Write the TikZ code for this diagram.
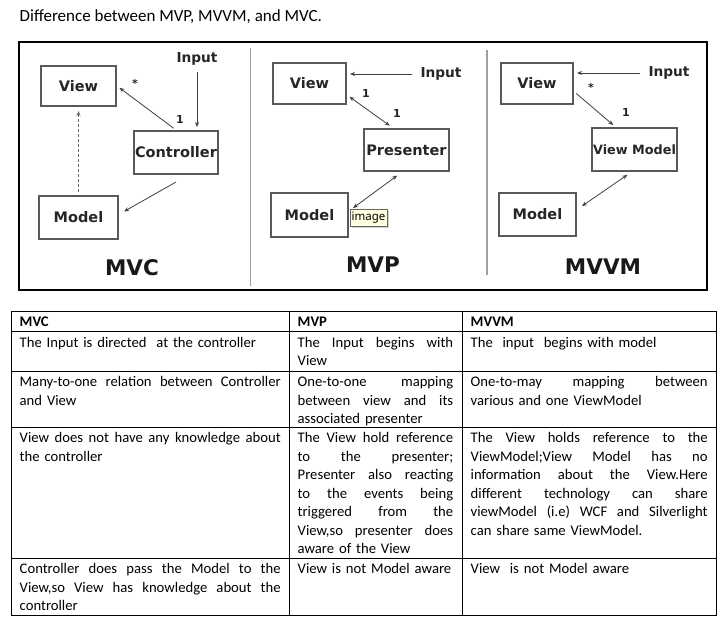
\documentclass[tikz,border=0pt]{standalone}
\usepackage{fontspec}
\setmainfont{Carlito}
\newfontfamily\diagfont{DejaVu Sans}
\newfontfamily\tipfont{Noto Sans}
\usepackage{xcolor}
\usetikzlibrary{arrows.meta, positioning, shadows}

\definecolor{tipfill}{HTML}{FFFFE1}
% one justified line of a table cell, per column width
\newcommand{\jl}[2]{\makebox[#1][s]{\spaceskip=0.226em plus 1fil\relax#2}}
\newcommand{\ja}{\jl{261pt}}
\newcommand{\jb}{\jl{155.5pt}}
\newcommand{\jc}{\jl{237pt}}

\begin{document}
\begin{tikzpicture}[x=1pt, y=-1pt,
  box/.style={draw=black!65, line width=1.6pt, inner sep=0pt, font=\diagfont\bfseries\fontsize{14.5}{16}\selectfont, text=black!85},
  lbl/.style={inner sep=1pt, font=\diagfont\bfseries\fontsize{13.7}{15}\selectfont, text=black!85},
  num/.style={inner sep=0pt, font=\diagfont\bfseries\fontsize{11}{12}\selectfont, text=black!85},
  big/.style={inner sep=0pt, font=\diagfont\bfseries\fontsize{21.5}{24}\selectfont, text=black!90},
  arr/.style={draw=black!75, line width=0.8pt, -{Stealth[length=5pt, width=4pt]}},
  dbl/.style={arr, {Stealth[length=5pt, width=4pt]}-{Stealth[length=5pt, width=4pt]}},
  cell/.style={anchor=base west, inner sep=0pt, align=left, font=\fontsize{14.67}{18.5}\selectfont},
  head/.style={cell, font=\bfseries\fontsize{14.67}{18.5}\selectfont},
  cola/.style={cell, text width=261pt},
  colb/.style={cell, text width=155.5pt},
  colc/.style={cell, text width=237pt}]
\fill[white] (0,0) rectangle (726,626);
\useasboundingbox (0,0) rectangle (726,626);

\node[anchor=base west, inner sep=0pt, font=\fontsize{17}{20}\selectfont] (title) at (19.5,22) {Difference between MVP, MVVM, and MVC.};

% picture frame and separators
\draw[line width=2pt] (19,42) rectangle (707,290);
\draw[gray!75, line width=1.8pt] (250.5,48) -- (250.5,286);
\draw[gray!75, line width=1.8pt] (487,50) -- (487,275);

% MVC
\node[box, minimum width=75.4pt, minimum height=40.4pt] (mvcview) at (78.5,86) {View};
\node[box, minimum width=84.4pt, minimum height=43.4pt] (mvcctrl) at (176,152.5) {Controller};
\node[box, minimum width=79.4pt, minimum height=43.4pt] (mvcmodel) at (78.5,217.5) {Model};
\node[lbl] (mvcin) at (197,59) {Input};
\draw[arr, shorten <=5pt, shorten >=3pt] (mvcin.south) -- (mvcin.south |- mvcctrl.north);
\draw[arr, shorten <=3pt, shorten >=3pt] (mvcctrl.north) -- (mvcview.east);
\draw[arr] ([yshift=-7pt]mvcctrl.south) -- ([xshift=5pt, yshift=6pt]mvcmodel.east);
\draw[arr, densely dashed, draw=black!60, shorten <=3pt, shorten >=4pt] (mvcmodel.north) -- (mvcview.south);
\node[num] (mvcone) at (180,119) {1};
\node[num] (mvcstar) at (135,83) {*};
\node[big] (mvclbl) at (132,268) {MVC};

% MVP
\node[box, minimum width=73.4pt, minimum height=41.4pt] (mvpview) at (309.5,83.5) {View};
\node[box, minimum width=85.4pt, minimum height=42.4pt] (mvppres) at (406.5,150) {Presenter};
\node[box, minimum width=77.4pt, minimum height=44.4pt] (mvpmodel) at (309.5,215) {Model};
\node[lbl] (mvpin) at (441,74) {Input};
\draw[arr, shorten <=7pt, shorten >=3pt] (mvpin.west) -- (mvpin.west -| mvpview.east);
\draw[dbl, shorten <=3pt, shorten >=4pt] ([yshift=-11.5pt]mvpview.east) -- ([xshift=-13.5pt]mvppres.north);
\draw[dbl, shorten <=5pt, shorten >=6pt] ([yshift=4pt]mvpmodel.east) -- ([xshift=-4.5pt]mvppres.south);
\node[num] (mvpone) at (366,93) {1};
\node[num] (mvptwo) at (397,113) {1};
\node[draw=black!60, fill=tipfill, inner sep=1.5pt, minimum width=37pt, minimum height=17pt,
  drop shadow={shadow xshift=1.5pt, shadow yshift=-1.5pt, opacity=0.35},
  font=\tipfont\fontsize{11.5}{13}\selectfont] (tip) at (368.5,218) {image};
\node[big] (mvplbl) at (373,265) {MVP};

% MVVM
\node[box, minimum width=72.4pt, minimum height=41.4pt] (mvvmview) at (537,83.5) {View};
\node[box, minimum width=85.4pt, minimum height=43.4pt, font=\diagfont\bfseries\fontsize{12.8}{14}\selectfont] (mvvmvm) at (634.5,149.5) {View Model};
\node[box, minimum width=77.4pt, minimum height=43.4pt] (mvvmmodel) at (537.5,214.5) {Model};
\node[lbl] (mvvmin) at (669,73) {Input};
\draw[arr, shorten <=7pt, shorten >=3pt] (mvvmin.west) -- (mvvmin.west -| mvvmview.east);
\draw[arr, shorten <=3pt, shorten >=3pt] ([yshift=-8pt]mvvmview.east) -- ([xshift=-19pt]mvvmvm.north);
\draw[dbl, shorten <=6pt, shorten >=5pt] ([yshift=5pt]mvvmmodel.east) -- ([xshift=-3pt]mvvmvm.south);
\node[num] (mvvmstar) at (591,87) {*};
\node[num] (mvvmone) at (626,112) {1};
\node[big] (mvvmlbl) at (603,267) {MVVM};

% table grid
\draw[line width=0.9pt] (11,311) rectangle (716,615);
\foreach \y in {331.5,371,427,558.5} {\draw[line width=0.9pt] (11,\y) -- (716,\y);}
\foreach \x in {289,462.5} {\draw[line width=0.9pt] (\x,311) -- (\x,615);}

% header
\node[head] (hmvc) at (19.5,326.8) {MVC};
\node[head] (hmvp) at (297.5,326.8) {MVP};
\node[head] (hmvvm) at (470.5,326.8) {MVVM};

% row 1
\node[cola] (ra1) at (19.5,347.3) {The Input is directed\ \ at the controller};
\node[colb] (rb1) at (297.5,347.3) {\jb{The Input begins with}\\View};
\node[colc] (rc1) at (470.5,347.3) {The\ \ input\ \ begins with model};

% row 2
\node[cola] (ra2) at (19.5,386.5) {\ja{Many-to-one relation between Controller}\\and View};
\node[colb] (rb2) at (297.5,386.5) {\jb{One-to-one mapping}\\\jb{between view and its}\\associated presenter};
\node[colc] (rc2) at (470.5,386.5) {\jc{One-to-may mapping between}\\various and one ViewModel};

% row 3
\node[cola] (ra3) at (19.5,442.5) {\ja{View does not have any knowledge about}\\the controller};
\node[colb] (rb3) at (297.5,442.5) {\jb{The View hold reference}\\\jb{to the presenter;}\\\jb{Presenter also reacting}\\\jb{to the events being}\\\jb{triggered from the}\\\jb{View,so presenter does}\\aware of the View};
\node[colc] (rc3) at (470.5,442.5) {\jc{The View holds reference to the}\\\jc{ViewModel;View Model has no}\\\jc{information about the View.Here}\\\jc{different technology can share}\\\jc{viewModel (i.e) WCF and Silverlight}\\can share same ViewModel.};

% row 4
\node[cola] (ra4) at (19.5,573.5) {\ja{Controller does pass the Model to the}\\\ja{View,so View has knowledge about the}\\controller};
\node[colb] (rb4) at (297.5,573.5) {View is not Model aware};
\node[colc] (rc4) at (470.5,573.5) {View\ \ is not Model aware};
\end{tikzpicture}
\end{document}
